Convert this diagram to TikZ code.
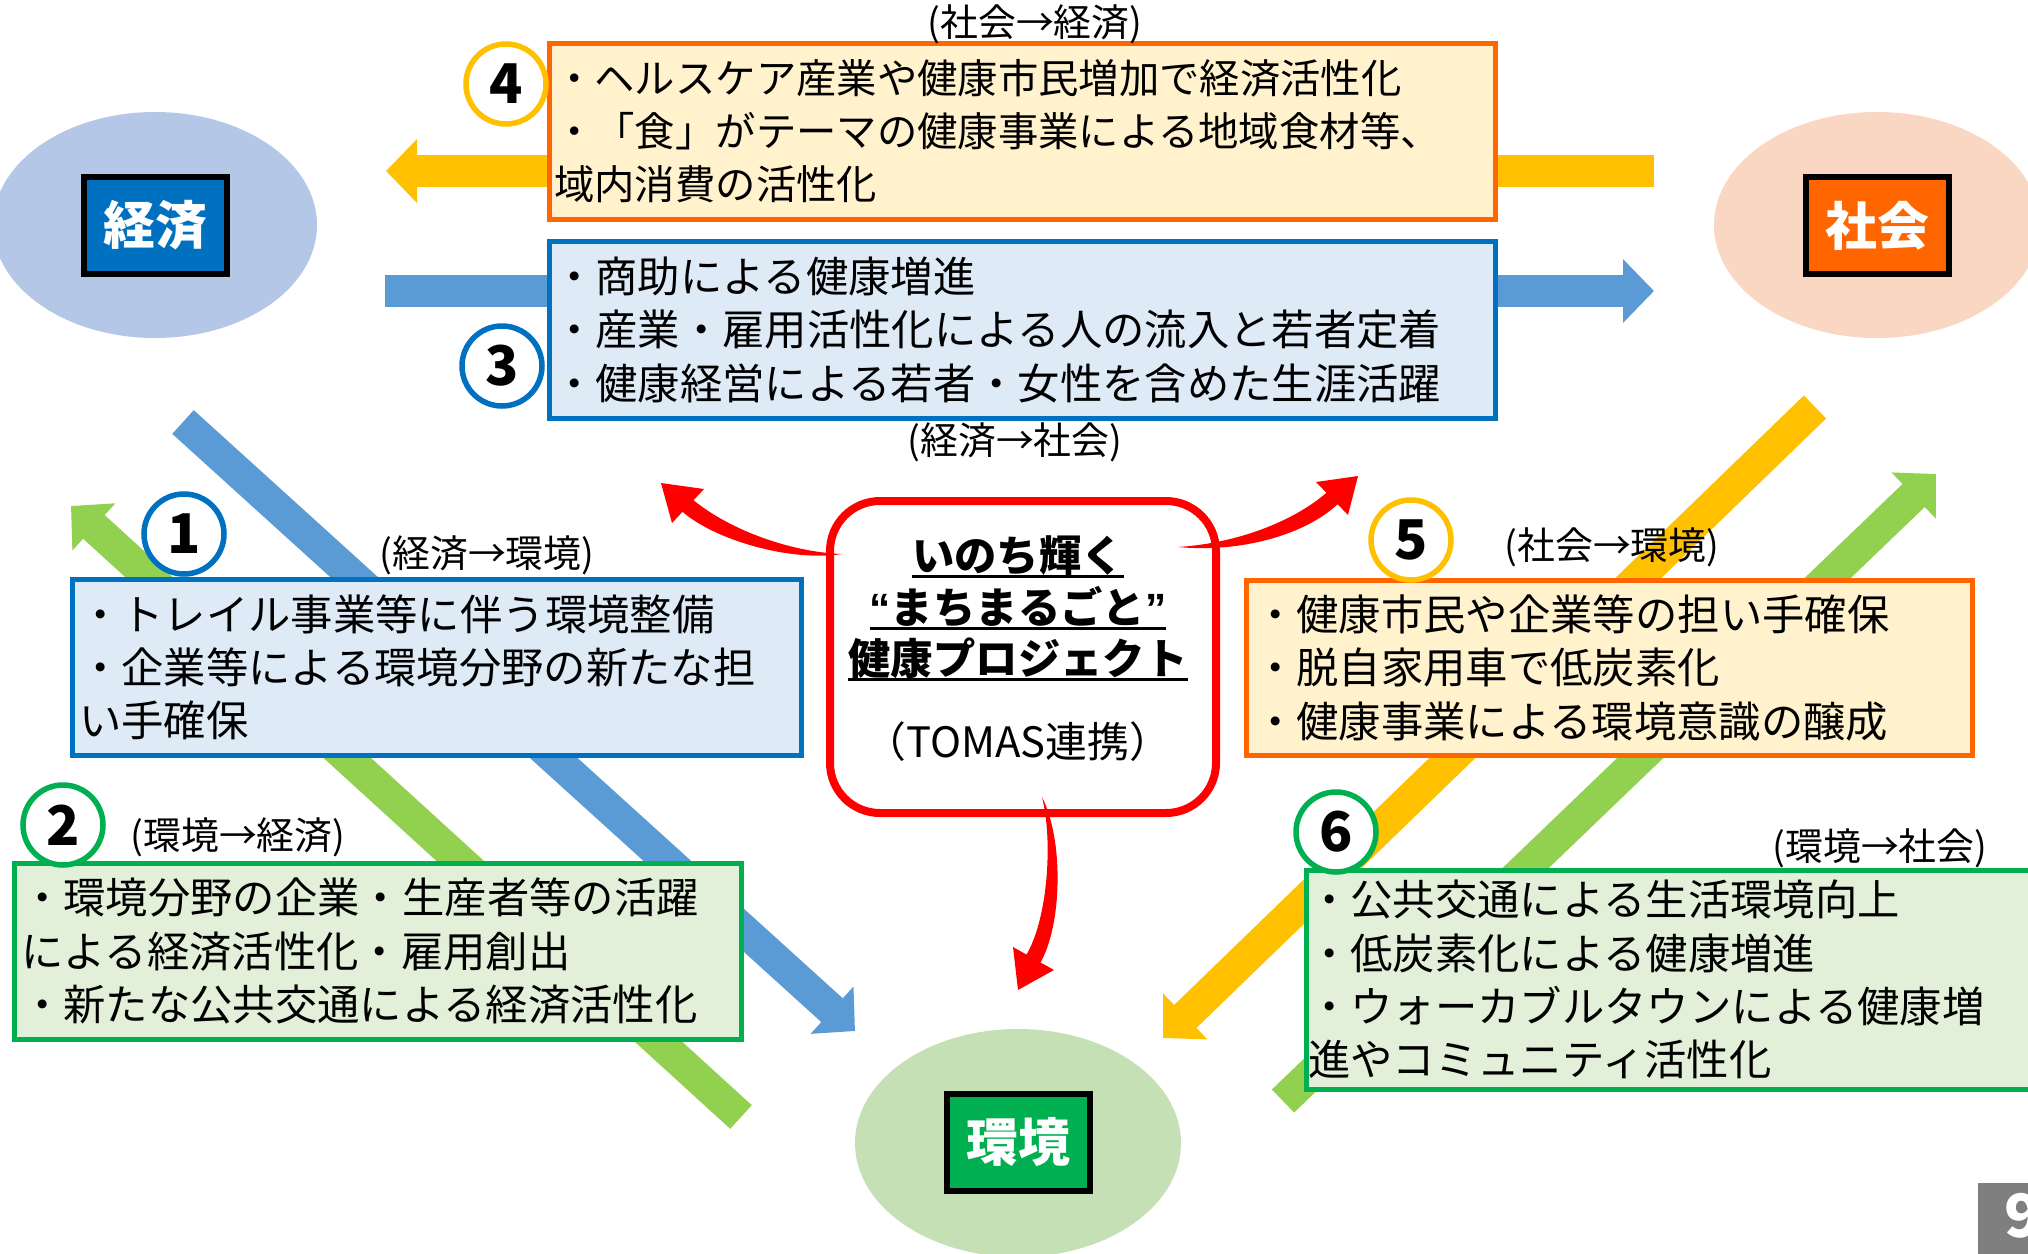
\documentclass[tikz,border=0pt]{standalone}
\usepackage{fontspec}
\setmainfont{Noto Sans CJK JP}
\newfontfamily\quotefont{Liberation Sans}
\usetikzlibrary{arrows.meta,shapes.geometric}
\definecolor{ellBlue}{HTML}{B4C7E7}
\definecolor{ellOrange}{HTML}{F9D7C2}
\definecolor{ellGreen}{HTML}{C5E0B4}
\definecolor{keiBlue}{HTML}{0070C0}
\definecolor{shaOrange}{HTML}{FF6600}
\definecolor{kanGreen}{HTML}{00B050}
\definecolor{arBlue}{HTML}{5B9BD5}
\definecolor{arGreen}{HTML}{92D050}
\definecolor{arYellow}{HTML}{FFC000}
\definecolor{fillBlue}{HTML}{DEEBF7}
\definecolor{fillCream}{HTML}{FFF2CC}
\definecolor{fillGreen}{HTML}{E2F0D9}
\definecolor{pageGray}{HTML}{7F7F7F}
\begin{document}
\begin{tikzpicture}[x=1bp,y=-1bp,
  bgell/.style={ellipse, inner sep=0, draw=none},
  mainbox/.style={draw=black, line width=6bp, minimum width=143bp, minimum height=97bp, inner sep=0, text=white, font=\fontsize{52}{60}\selectfont\bfseries},
  bigarrow/.style={line width=32bp, -{Triangle[width=62bp,length=31bp]}},
  txtbox/.style={line width=4.5bp, anchor=north west, align=left, inner ysep=0, font=\fontsize{42.5}{53.5}\selectfont},
  numc/.style={circle, line width=5.5bp, fill=white, minimum size=80bp, inner sep=0, font=\fontsize{55}{55}\selectfont\bfseries},
  lab/.style={inner sep=0, font=\fontsize{38}{40}\selectfont},
  ttl/.style={inner sep=0, anchor=base, font=\fontsize{42.5}{50}\selectfont\bfseries},
  uline/.style={line width=3bp},
  redarrow/.style={fill=red, draw=none}]
\useasboundingbox (0,0) rectangle (2028,1253);
\fill[white] (0,0) rectangle (2028,1253);

% background ellipses
\node[bgell, fill=ellBlue, minimum width=324bp, minimum height=226bp] (ekei) at (155,225) {};
\node[bgell, fill=ellOrange, minimum width=326bp, minimum height=226bp] (esha) at (1877,225) {};
\node[bgell, fill=ellGreen, minimum width=326bp, minimum height=228bp] (ekan) at (1018,1143) {};

% main labels
\node[mainbox, fill=keiBlue] (kei) at (155.5,225.5) {経済};
\node[mainbox, fill=shaOrange] (sha) at (1877,225.5) {社会};
\node[mainbox, fill=kanGreen] (kan) at (1018,1142.5) {環境};

% arrow end coordinates
\coordinate (yS) at (1654,171);
\coordinate (yE) at (386,171);
\coordinate (bS) at (385,291);
\coordinate (bE) at (1654,291);
\coordinate (d1S) at (183,422);
\coordinate (d1E) at (855,1031);
\coordinate (d2S) at (741,1117);
\coordinate (d2E) at (71,506);
\coordinate (d5S) at (1815,407);
\coordinate (d5E) at (1163,1038);
\coordinate (d6S) at (1283,1101);
\coordinate (d6E) at (1936,474);

\draw[bigarrow, arYellow] (yS) -- (yE);
\draw[bigarrow, arBlue] (bS) -- (bE);
\draw[bigarrow, arGreen] (d2S) -- (d2E);
\draw[bigarrow, arBlue] (d1S) -- (d1E);
\draw[bigarrow, arGreen] (d6S) -- (d6E);
\draw[bigarrow, arYellow] (d5S) -- (d5E);

% text boxes
\node[txtbox, draw=shaOrange, fill=fillCream, inner xsep=5bp, text width=936bp, minimum height=176bp, font=\fontsize{40.5}{53.5}\selectfont] (b4) at (547,41)
 {・ヘルスケア産業や健康市民増加で経済活性化\\・「食」がテーマの健康事業による地域食材等、\\域内消費の活性化};
\node[txtbox, draw=keiBlue, fill=fillBlue, inner xsep=4bp, text width=938bp, minimum height=177bp] (b3) at (547,239)
 {・商助による健康増進\\・産業・雇用活性化による人の流入と若者定着\\・健康経営による若者・女性を含めた生涯活躍};
\node[txtbox, draw=keiBlue, fill=fillBlue, inner xsep=7bp, text width=715bp, minimum height=176bp] (b1) at (70,577)
 {・トレイル事業等に伴う環境整備\\・企業等による環境分野の新たな担\\い手確保};
\node[txtbox, draw=kanGreen, fill=fillGreen, inner xsep=7bp, text width=713bp, minimum height=176bp] (b2) at (12,861)
 {・環境分野の企業・生産者等の活躍\\による経済活性化・雇用創出\\・新たな公共交通による経済活性化};
\node[txtbox, draw=shaOrange, fill=fillCream, inner xsep=8bp, text width=710bp, minimum height=175bp] (b5) at (1244,578)
 {・健康市民や企業等の担い手確保\\・脱自家用車で低炭素化\\・健康事業による環境意識の醸成};
\node[txtbox, draw=kanGreen, fill=fillGreen, inner xsep=2bp, text width=736bp, minimum height=219bp] (b6) at (1304,868)
 {・公共交通による生活環境向上\\・低炭素化による健康増進\\・ウォーカブルタウンによる健康増\\進やコミュニティ活性化};

% number circles
\node[numc, draw=keiBlue] (n1) at (184,534) {1};
\node[numc, draw=kanGreen] (n2) at (63,825) {2};
\node[numc, draw=keiBlue] (n3) at (502,366) {3};
\node[numc, draw=arYellow] (n4) at (506,84) {4};
\node[numc, draw=arYellow] (n5) at (1411,540) {5};
\node[numc, draw=kanGreen] (n6) at (1336,832) {6};

% direction labels
\node[lab] (l4) at (1035,24) {(社会→経済)};
\node[lab] (l3) at (1015,442) {(経済→社会)};
\node[lab] (l1) at (487,555) {(経済→環境)};
\node[lab] (l2) at (238,837) {(環境→経済)};
\node[lab] (l5) at (1612,547) {(社会→環境)};
\node[lab] (l6) at (1880,848) {(環境→社会)};

% central hub
\node[draw=red, line width=8bp, fill=white, rounded corners=50bp, minimum width=386bp, minimum height=312bp, inner sep=0] (hub) at (1023,657) {};
\node[ttl] (t1) at (1018,571) {いのち輝く};
\node[ttl] (t2) at (1018,623) {{\quotefont“}まちまるごと{\quotefont”}};
\node[ttl] (t3) at (1018,674) {健康プロジェクト};
\draw[uline] ([yshift=-5bp]t1.base west) -- ([yshift=-5bp]t1.base east);
\draw[uline] ([yshift=-5bp]t2.base west) -- ([yshift=-5bp]t2.base east);
\draw[uline] ([yshift=-5bp]t3.base west) -- ([yshift=-5bp]t3.base east);
\node[inner sep=0, font=\fontsize{42}{44}\selectfont] (tomas) at (1018,742) {（TOMAS連携）};

% red curved arrows
\coordinate (lTail) at (842,554);
\coordinate (lTip) at (661,483);
\coordinate (rTail) at (1178,547);
\coordinate (rTip) at (1358,476);
\coordinate (dTail) at (1042,797);
\coordinate (dTip) at (1018,990);
\fill[redarrow] (lTail) .. controls (790,552) and (730,530) .. (693.5,500.2) -- (704,489) -- (lTip) -- (672,523) -- (682.5,511.8) .. controls (715,540) and (790,562) .. (lTail) -- cycle;
\fill[redarrow] (rTail) .. controls (1240,543) and (1295,520) .. (1326.4,492.8) -- (1316,482) -- (rTip) -- (1348,515) -- (1337.6,504.2) .. controls (1305,535) and (1240,553) .. (rTail) -- cycle;
\fill[redarrow] (dTail) .. controls (1064,840) and (1062,925) .. (1040.5,962.4) -- (1054,970) -- (dTip) -- (1013,947) -- (1026.5,954.6) .. controls (1048,918) and (1053,840) .. (dTail) -- cycle;

% page number
\fill[pageGray] (1978,1183) rectangle (2040,1260);
\node[anchor=west, inner sep=0, text=white, font=\fontsize{60}{60}\selectfont\bfseries] (pg) at (2004,1216) {9};
\end{tikzpicture}
\end{document}
